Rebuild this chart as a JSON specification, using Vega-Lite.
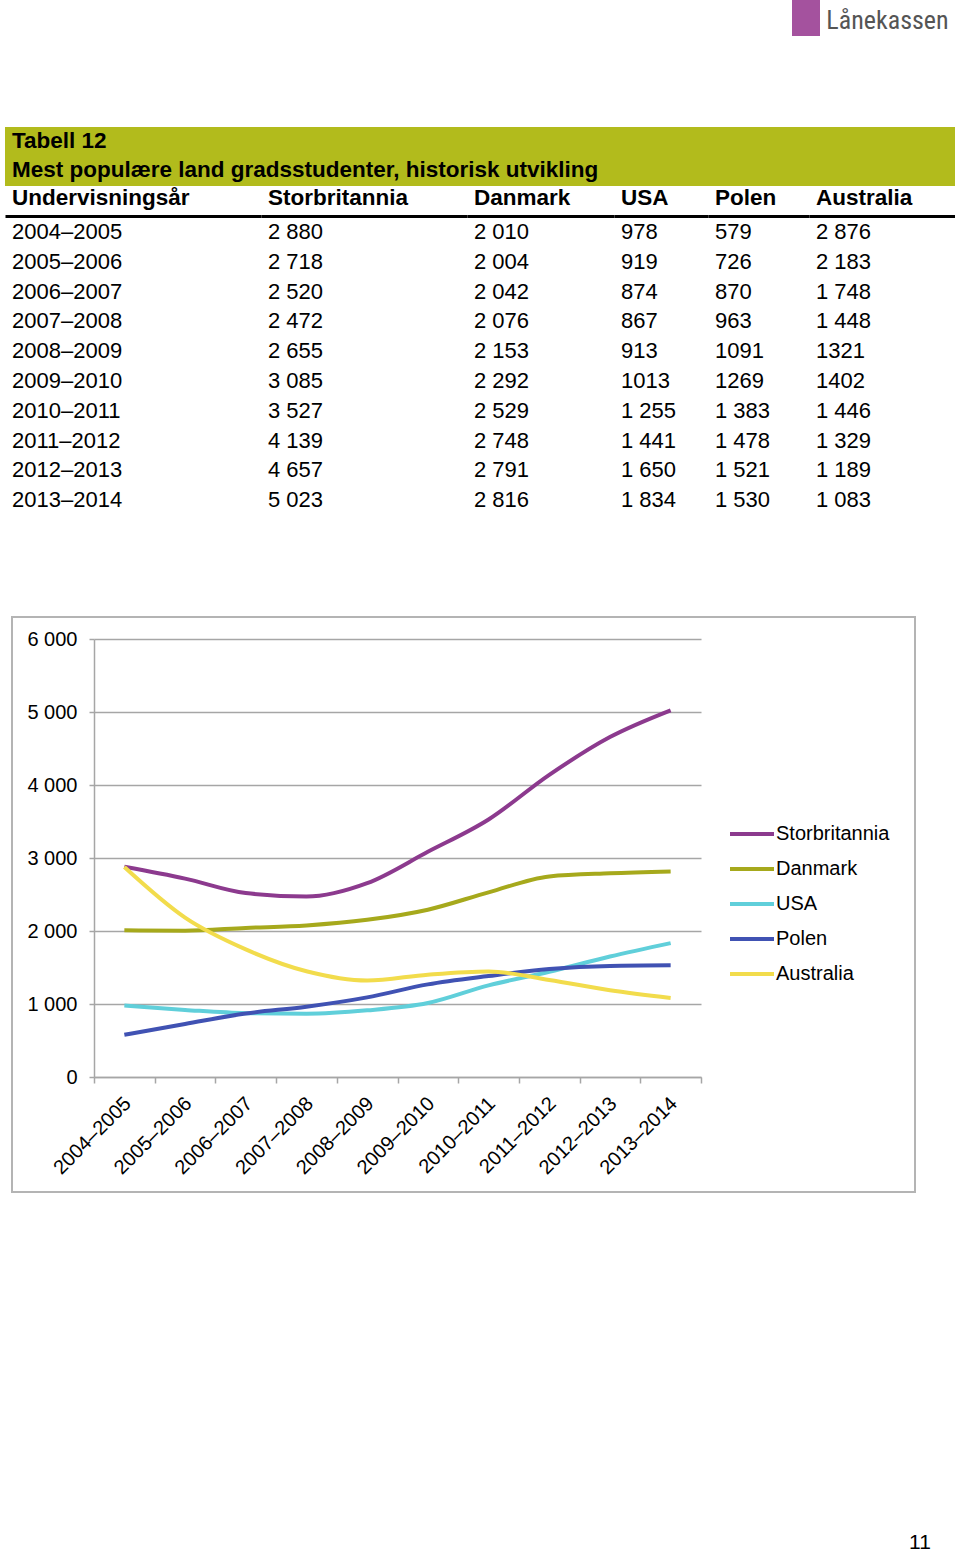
{
  "$schema": "https://vega.github.io/schema/vega-lite/v6.json",
  "background": "white",
  "padding": {"left": 5, "top": 0, "right": 0, "bottom": 0},
  "spacing": 0,
  "resolve": {"scale": {"color": "independent"}, "legend": {"color": "independent"}},
  "config": {"view": {"stroke": null}, "font": "Liberation Sans", "text": {"font": "Liberation Sans"}},
  "datasets": {
    "rows": [
      {"year": "2004–2005", "country": "Storbritannia", "value": 2880, "label": "2 880"},
      {"year": "2005–2006", "country": "Storbritannia", "value": 2718, "label": "2 718"},
      {"year": "2006–2007", "country": "Storbritannia", "value": 2520, "label": "2 520"},
      {"year": "2007–2008", "country": "Storbritannia", "value": 2472, "label": "2 472"},
      {"year": "2008–2009", "country": "Storbritannia", "value": 2655, "label": "2 655"},
      {"year": "2009–2010", "country": "Storbritannia", "value": 3085, "label": "3 085"},
      {"year": "2010–2011", "country": "Storbritannia", "value": 3527, "label": "3 527"},
      {"year": "2011–2012", "country": "Storbritannia", "value": 4139, "label": "4 139"},
      {"year": "2012–2013", "country": "Storbritannia", "value": 4657, "label": "4 657"},
      {"year": "2013–2014", "country": "Storbritannia", "value": 5023, "label": "5 023"},
      {"year": "2004–2005", "country": "Danmark", "value": 2010, "label": "2 010"},
      {"year": "2005–2006", "country": "Danmark", "value": 2004, "label": "2 004"},
      {"year": "2006–2007", "country": "Danmark", "value": 2042, "label": "2 042"},
      {"year": "2007–2008", "country": "Danmark", "value": 2076, "label": "2 076"},
      {"year": "2008–2009", "country": "Danmark", "value": 2153, "label": "2 153"},
      {"year": "2009–2010", "country": "Danmark", "value": 2292, "label": "2 292"},
      {"year": "2010–2011", "country": "Danmark", "value": 2529, "label": "2 529"},
      {"year": "2011–2012", "country": "Danmark", "value": 2748, "label": "2 748"},
      {"year": "2012–2013", "country": "Danmark", "value": 2791, "label": "2 791"},
      {"year": "2013–2014", "country": "Danmark", "value": 2816, "label": "2 816"},
      {"year": "2004–2005", "country": "USA", "value": 978, "label": "978"},
      {"year": "2005–2006", "country": "USA", "value": 919, "label": "919"},
      {"year": "2006–2007", "country": "USA", "value": 874, "label": "874"},
      {"year": "2007–2008", "country": "USA", "value": 867, "label": "867"},
      {"year": "2008–2009", "country": "USA", "value": 913, "label": "913"},
      {"year": "2009–2010", "country": "USA", "value": 1013, "label": "1013"},
      {"year": "2010–2011", "country": "USA", "value": 1255, "label": "1 255"},
      {"year": "2011–2012", "country": "USA", "value": 1441, "label": "1 441"},
      {"year": "2012–2013", "country": "USA", "value": 1650, "label": "1 650"},
      {"year": "2013–2014", "country": "USA", "value": 1834, "label": "1 834"},
      {"year": "2004–2005", "country": "Polen", "value": 579, "label": "579"},
      {"year": "2005–2006", "country": "Polen", "value": 726, "label": "726"},
      {"year": "2006–2007", "country": "Polen", "value": 870, "label": "870"},
      {"year": "2007–2008", "country": "Polen", "value": 963, "label": "963"},
      {"year": "2008–2009", "country": "Polen", "value": 1091, "label": "1091"},
      {"year": "2009–2010", "country": "Polen", "value": 1269, "label": "1269"},
      {"year": "2010–2011", "country": "Polen", "value": 1383, "label": "1 383"},
      {"year": "2011–2012", "country": "Polen", "value": 1478, "label": "1 478"},
      {"year": "2012–2013", "country": "Polen", "value": 1521, "label": "1 521"},
      {"year": "2013–2014", "country": "Polen", "value": 1530, "label": "1 530"},
      {"year": "2004–2005", "country": "Australia", "value": 2876, "label": "2 876"},
      {"year": "2005–2006", "country": "Australia", "value": 2183, "label": "2 183"},
      {"year": "2006–2007", "country": "Australia", "value": 1748, "label": "1 748"},
      {"year": "2007–2008", "country": "Australia", "value": 1448, "label": "1 448"},
      {"year": "2008–2009", "country": "Australia", "value": 1321, "label": "1321"},
      {"year": "2009–2010", "country": "Australia", "value": 1402, "label": "1402"},
      {"year": "2010–2011", "country": "Australia", "value": 1446, "label": "1 446"},
      {"year": "2011–2012", "country": "Australia", "value": 1329, "label": "1 329"},
      {"year": "2012–2013", "country": "Australia", "value": 1189, "label": "1 189"},
      {"year": "2013–2014", "country": "Australia", "value": 1083, "label": "1 083"}
    ]
  },
  "vconcat": [
    {
      "spacing": 0,
      "hconcat": [
        {"width": 787, "height": 127, "data": {"values": []}, "mark": "point"},
        {"width": 28, "height": 36, "data": {"values": []}, "mark": "point", "view": {"fill": "#a4529e", "stroke": null}},
        {"width": 135, "height": 42, "data": {"values": [{"name": "Lånekassen"}]},
         "mark": {"type": "text", "fontSize": 26, "color": "#555555", "font": "Liberation Sans Narrow, Roboto Condensed, Roboto"},
         "encoding": {"text": {"field": "name"}}}
      ]
    },
    {
      "width": 950, "height": 59,
      "view": {"fill": "#b2bb1c", "stroke": null},
      "data": {"values": [{"line": 1, "text": "Tabell 12"}, {"line": 2, "text": "Mest populære land gradsstudenter, historisk utvikling"}]},
      "mark": {"type": "text", "align": "left", "dx": 7, "dy": -1, "fontSize": 22.5, "fontWeight": "bold", "color": "black"},
      "encoding": {
        "x": {"datum": 0, "type": "quantitative", "scale": {"domain": [0, 1]}, "axis": null},
        "y": {"field": "line", "type": "ordinal", "scale": {"type": "band", "paddingInner": 0, "paddingOuter": 0}, "axis": null},
        "text": {"field": "text"}
      }
    },
    {
      "spacing": 0,
      "hconcat": [
        {
          "width": 256, "height": 298,
          "data": {"name": "rows"},
          "transform": [{"filter": "datum.country == 'Storbritannia'"}],
          "title": {"text": "Undervisningsår", "anchor": "start", "dx": 7, "fontSize": 22.5, "fontWeight": "bold", "offset": 7, "color": "black", "font": "Liberation Sans"},
          "mark": {"type": "text", "align": "left", "dx": 7, "dy": 1, "fontSize": 22},
          "encoding": {
            "x": {"datum": 0, "type": "quantitative", "scale": {"domain": [0, 1]}, "axis": {"orient": "top", "domainColor": "black", "domainWidth": 3, "ticks": false, "labels": false, "grid": false, "title": null}},
            "y": {"field": "year", "type": "ordinal", "scale": {"type": "band", "paddingInner": 0, "paddingOuter": 0}, "axis": null},
            "text": {"field": "year"}
          }
        },
        {
          "width": 206, "height": 298,
          "data": {"name": "rows"},
          "transform": [{"filter": "datum.country == 'Storbritannia'"}],
          "title": {"text": "Storbritannia", "anchor": "start", "dx": 7, "fontSize": 22.5, "fontWeight": "bold", "offset": 7, "color": "black", "font": "Liberation Sans"},
          "mark": {"type": "text", "align": "left", "dx": 7, "dy": 1, "fontSize": 22},
          "encoding": {
            "x": {"datum": 0, "type": "quantitative", "scale": {"domain": [0, 1]}, "axis": {"orient": "top", "domainColor": "black", "domainWidth": 3, "ticks": false, "labels": false, "grid": false, "title": null}},
            "y": {"field": "year", "type": "ordinal", "scale": {"type": "band", "paddingInner": 0, "paddingOuter": 0}, "axis": null},
            "text": {"field": "label"}
          }
        },
        {
          "width": 147, "height": 298,
          "data": {"name": "rows"},
          "transform": [{"filter": "datum.country == 'Danmark'"}],
          "title": {"text": "Danmark", "anchor": "start", "dx": 7, "fontSize": 22.5, "fontWeight": "bold", "offset": 7, "color": "black", "font": "Liberation Sans"},
          "mark": {"type": "text", "align": "left", "dx": 7, "dy": 1, "fontSize": 22},
          "encoding": {
            "x": {"datum": 0, "type": "quantitative", "scale": {"domain": [0, 1]}, "axis": {"orient": "top", "domainColor": "black", "domainWidth": 3, "ticks": false, "labels": false, "grid": false, "title": null}},
            "y": {"field": "year", "type": "ordinal", "scale": {"type": "band", "paddingInner": 0, "paddingOuter": 0}, "axis": null},
            "text": {"field": "label"}
          }
        },
        {
          "width": 94, "height": 298,
          "data": {"name": "rows"},
          "transform": [{"filter": "datum.country == 'USA'"}],
          "title": {"text": "USA", "anchor": "start", "dx": 7, "fontSize": 22.5, "fontWeight": "bold", "offset": 7, "color": "black", "font": "Liberation Sans"},
          "mark": {"type": "text", "align": "left", "dx": 7, "dy": 1, "fontSize": 22},
          "encoding": {
            "x": {"datum": 0, "type": "quantitative", "scale": {"domain": [0, 1]}, "axis": {"orient": "top", "domainColor": "black", "domainWidth": 3, "ticks": false, "labels": false, "grid": false, "title": null}},
            "y": {"field": "year", "type": "ordinal", "scale": {"type": "band", "paddingInner": 0, "paddingOuter": 0}, "axis": null},
            "text": {"field": "label"}
          }
        },
        {
          "width": 101, "height": 298,
          "data": {"name": "rows"},
          "transform": [{"filter": "datum.country == 'Polen'"}],
          "title": {"text": "Polen", "anchor": "start", "dx": 7, "fontSize": 22.5, "fontWeight": "bold", "offset": 7, "color": "black", "font": "Liberation Sans"},
          "mark": {"type": "text", "align": "left", "dx": 7, "dy": 1, "fontSize": 22},
          "encoding": {
            "x": {"datum": 0, "type": "quantitative", "scale": {"domain": [0, 1]}, "axis": {"orient": "top", "domainColor": "black", "domainWidth": 3, "ticks": false, "labels": false, "grid": false, "title": null}},
            "y": {"field": "year", "type": "ordinal", "scale": {"type": "band", "paddingInner": 0, "paddingOuter": 0}, "axis": null},
            "text": {"field": "label"}
          }
        },
        {
          "width": 146, "height": 298,
          "data": {"name": "rows"},
          "transform": [{"filter": "datum.country == 'Australia'"}],
          "title": {"text": "Australia", "anchor": "start", "dx": 7, "fontSize": 22.5, "fontWeight": "bold", "offset": 7, "color": "black", "font": "Liberation Sans"},
          "mark": {"type": "text", "align": "left", "dx": 7, "dy": 1, "fontSize": 22},
          "encoding": {
            "x": {"datum": 0, "type": "quantitative", "scale": {"domain": [0, 1]}, "axis": {"orient": "top", "domainColor": "black", "domainWidth": 3, "ticks": false, "labels": false, "grid": false, "title": null}},
            "y": {"field": "year", "type": "ordinal", "scale": {"type": "band", "paddingInner": 0, "paddingOuter": 0}, "axis": null},
            "text": {"field": "label"}
          }
        }
      ]
    },
    {"width": 1, "height": 102, "data": {"values": []}, "mark": "point"},
    {
      "spacing": 0,
      "resolve": {"scale": {"color": "independent"}, "legend": {"color": "independent"}},
      "hconcat": [
        {"width": 6, "height": 1, "data": {"values": []}, "mark": "point"},
        {
          "width": 903, "height": 575,
          "view": {"stroke": "#b4b4b4", "strokeWidth": 2},
          "data": {"name": "rows"},
          "mark": {"type": "line", "strokeWidth": 4, "interpolate": "monotone"},
          "encoding": {
            "x": {"field": "year", "type": "ordinal", "bandPosition": 0.5,
              "scale": {"type": "band", "range": [82, 689], "paddingInner": 0, "paddingOuter": 0},
              "axis": {"orient": "bottom", "offset": -115, "tickBand": "extent", "domainColor": "#a6a6a6", "domainWidth": 1.5, "tickColor": "#a6a6a6", "tickSize": 6, "tickWidth": 1.5, "labelAngle": -45, "labelFontSize": 20, "labelColor": "black", "labelPadding": 10, "labelOffset": -4, "labelOverlap": false, "title": null, "grid": false}},
            "y": {"field": "value", "type": "quantitative",
              "scale": {"domain": [0, 6000], "range": [460, 22], "nice": false},
              "axis": {"orient": "left", "offset": -82, "values": [0, 1000, 2000, 3000, 4000, 5000, 6000], "grid": true, "gridColor": "#a6a6a6", "gridWidth": 1.5, "domainColor": "#a6a6a6", "domainWidth": 1.5, "tickColor": "#a6a6a6", "tickSize": 5, "tickWidth": 1.5, "labelFontSize": 20, "labelColor": "black", "labelPadding": 12, "labelExpr": "replace(format(datum.value, ','), ',', ' ')", "title": null}},
            "color": {"field": "country", "type": "nominal",
              "scale": {"domain": ["Storbritannia", "Danmark", "USA", "Polen", "Australia"], "range": ["#8c3a8e", "#a6a91c", "#60cfda", "#4052b3", "#f2dc4c"]},
              "legend": {"orient": "none", "legendX": 727, "legendY": 204, "title": null, "symbolType": "M-2,0L2,0", "symbolSize": 484, "symbolStrokeWidth": 4, "labelFontSize": 20, "labelOffset": 11, "rowPadding": 12, "labelColor": "black", "padding": 0}}
          }
        }
      ]
    },
    {"width": 1, "height": 338, "data": {"values": []}, "mark": "point"},
    {
      "spacing": 0,
      "hconcat": [
        {"width": 895, "height": 1, "data": {"values": []}, "mark": "point"},
        {"width": 40, "height": 24, "data": {"values": [{"page": "11"}]},
         "mark": {"type": "text", "fontSize": 21, "color": "black"},
         "encoding": {"text": {"field": "page"}}}
      ]
    }
  ]
}
